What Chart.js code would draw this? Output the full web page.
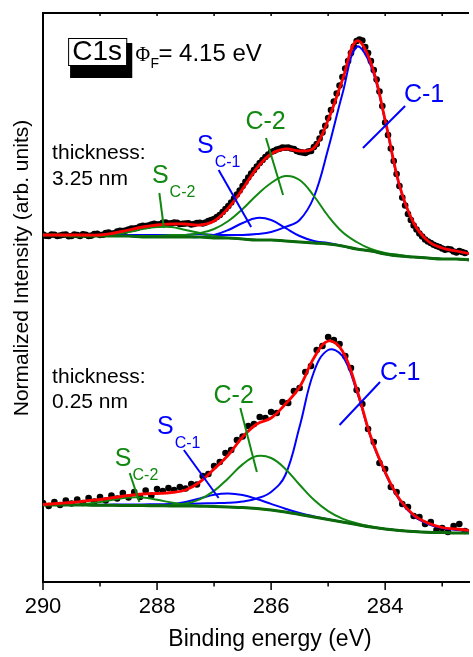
<!DOCTYPE html>
<html>
<head>
<meta charset="utf-8">
<script src="https://cdn.jsdelivr.net/npm/chart.js@4.4.1/dist/chart.umd.min.js"></script>
<style>
  html, body { margin: 0; padding: 0; background: #fff; }
  #wrap { width: 473px; height: 657px; position: relative; }
</style>
</head>
<body>
<div id="wrap"><canvas id="xps"></canvas></div>
<script>
// binding energy grid of the fitted curves (eV)
const fitEnergy = [290, 289.75, 289.5, 289.25, 289, 288.75, 288.5, 288.25, 288, 287.75,
  287.5, 287.25, 287, 286.75, 286.5, 286.25, 286, 285.75, 285.5, 285.25,
  285, 284.75, 284.5, 284.25, 284, 283.75, 283.5, 283.25, 283, 282.75, 282.5];

// binding energies of the measured points (eV)
const dotEnergy = [290.0, 289.9, 289.8, 289.7, 289.6, 289.5, 289.4, 289.3, 289.2, 289.1,
  289.0, 288.9, 288.8, 288.7, 288.6, 288.5, 288.4, 288.3, 288.2, 288.1,
  288.0, 287.9, 287.8, 287.7, 287.6, 287.5, 287.4, 287.3, 287.2, 287.1,
  287.0, 286.9, 286.8, 286.7, 286.6, 286.5, 286.4, 286.3, 286.2, 286.1,
  286.0, 285.9, 285.8, 285.7, 285.6, 285.5, 285.4, 285.3, 285.2, 285.1,
  285.0, 284.9, 284.8, 284.7, 284.6, 284.5, 284.4, 284.3, 284.2, 284.1,
  284.0, 283.9, 283.8, 283.7, 283.6, 283.5, 283.4, 283.3, 283.2, 283.1,
  283.0, 282.9, 282.8, 282.7, 282.6];
// the thick film was recorded with a finer step: points in between
const dotEnergyMid = [289.95, 289.85, 289.75, 289.65, 289.55, 289.45, 289.35, 289.25, 289.15, 289.05,
  288.95, 288.85, 288.75, 288.65, 288.55, 288.45, 288.35, 288.25, 288.15, 288.05,
  287.95, 287.85, 287.75, 287.65, 287.55, 287.45, 287.35, 287.25, 287.15, 287.05,
  286.95, 286.85, 286.75, 286.65, 286.55, 286.45, 286.35, 286.25, 286.15, 286.05,
  285.95, 285.85, 285.75, 285.65, 285.55, 285.45, 285.35, 285.25, 285.15, 285.05,
  284.95, 284.85, 284.75, 284.65, 284.55, 284.45, 284.35, 284.25, 284.15, 284.05,
  283.95, 283.85, 283.75, 283.65, 283.55, 283.45, 283.35, 283.25, 283.15, 283.05,
  282.95, 282.85, 282.75, 282.65];

// 3.25 nm film (offset upwards)
const thickData = [3.475, 3.46, 3.472, 3.465, 3.475, 3.46, 3.47, 3.478, 3.46, 3.48,
  3.47, 3.49, 3.482, 3.505, 3.51, 3.525, 3.535, 3.555, 3.56, 3.575,
  3.575, 3.592, 3.585, 3.595, 3.58, 3.585, 3.575, 3.59, 3.585, 3.61,
  3.63, 3.67, 3.73, 3.795, 3.875, 3.96, 4.045, 4.12, 4.19, 4.25,
  4.30, 4.325, 4.345, 4.345, 4.33, 4.30, 4.29, 4.31, 4.38, 4.495,
  4.64, 4.805, 4.965, 5.135, 5.29, 5.41, 5.415, 5.29, 5.12, 4.905,
  4.595, 4.335, 4.08, 3.845, 3.68, 3.565, 3.485, 3.425, 3.39, 3.36,
  3.335, 3.33, 3.305, 3.31, 3.29];
const thickDataMid = [3.462, 3.475, 3.46, 3.472, 3.458, 3.474, 3.46, 3.472, 3.464, 3.482,
  3.472, 3.494, 3.488, 3.512, 3.514, 3.534, 3.54, 3.562, 3.564, 3.582,
  3.578, 3.594, 3.586, 3.592, 3.582, 3.588, 3.58, 3.592, 3.594, 3.62,
  3.65, 3.70, 3.76, 3.835, 3.915, 4.002, 4.085, 4.155, 4.22, 4.275,
  4.31, 4.332, 4.342, 4.335, 4.31, 4.295, 4.304, 4.35, 4.435, 4.562,
  4.72, 4.885, 5.05, 5.21, 5.355, 5.425, 5.35, 5.21, 5.025, 4.76,
  4.47, 4.21, 3.96, 3.765, 3.62, 3.525, 3.455, 3.405, 3.372, 3.35,
  3.322, 3.324, 3.295, 3.30];
const thickFit = [3.47, 3.47, 3.47, 3.47, 3.47, 3.49, 3.52, 3.55, 3.57, 3.58,
  3.58, 3.57, 3.61, 3.74, 3.93, 4.14, 4.28, 4.33, 4.31, 4.34,
  4.62, 5.02, 5.41, 5.19, 4.62, 3.97, 3.59, 3.41, 3.34, 3.31, 3.28];
const thickC1 = [3.47, 3.47, 3.47, 3.47, 3.47, 3.47, 3.47, 3.47, 3.47, 3.47,
  3.47, 3.48, 3.47, 3.47, 3.47, 3.48, 3.50, 3.55, 3.62, 3.85,
  4.33, 4.88, 5.35, 5.16, 4.61, 3.96, 3.59, 3.41, 3.34, 3.31, 3.28];
const thickC2 = [3.47, 3.47, 3.46, 3.46, 3.46, 3.46, 3.46, 3.46, 3.46, 3.47,
  3.47, 3.49, 3.53, 3.61, 3.73, 3.87, 3.99, 4.06, 4.02, 3.86,
  3.66, 3.50, 3.40, 3.33, 3.29, 3.27, 3.25, 3.24, 3.23, 3.23, 3.22];
const thickSC1 = [3.47, 3.47, 3.46, 3.46, 3.46, 3.46, 3.46, 3.45, 3.45, 3.45,
  3.45, 3.45, 3.47, 3.52, 3.59, 3.64, 3.62, 3.54, 3.46, 3.41,
  3.39, 3.36, 3.33, 3.31, 3.28, 3.26, 3.25, 3.24, 3.23, 3.23, 3.22];
const thickSC2 = [3.47, 3.47, 3.46, 3.46, 3.47, 3.48, 3.50, 3.53, 3.55, 3.55,
  3.52, 3.49, 3.46, 3.44, 3.43, 3.42, 3.42, 3.41, 3.40, 3.39,
  3.38, 3.36, 3.33, 3.31, 3.28, 3.26, 3.25, 3.24, 3.23, 3.23, 3.22];
const thickBg = [3.47, 3.47, 3.46, 3.46, 3.46, 3.46, 3.46, 3.45, 3.45, 3.45,
  3.45, 3.45, 3.44, 3.44, 3.43, 3.42, 3.42, 3.41, 3.40, 3.39,
  3.38, 3.36, 3.33, 3.31, 3.28, 3.26, 3.25, 3.24, 3.23, 3.23, 3.22];

// 0.25 nm film
const thinData = [0.79, 0.76, 0.80, 0.77, 0.815, 0.785, 0.825, 0.79, 0.84, 0.805,
  0.85, 0.815, 0.865, 0.835, 0.89, 0.845, 0.90, 0.85, 0.915, 0.865,
  0.93, 0.91, 0.94, 0.92, 0.95, 0.935, 0.98, 0.975, 1.06, 1.08,
  1.16, 1.20, 1.29, 1.32, 1.42, 1.455, 1.56, 1.58, 1.65, 1.64,
  1.70, 1.69, 1.80, 1.79, 1.91, 1.94, 2.10, 2.16, 2.32, 2.36,
  2.45, 2.42, 2.38, 2.26, 2.14, 1.92, 1.78, 1.53, 1.40, 1.19,
  1.13, 0.95, 0.90, 0.78, 0.75, 0.66, 0.65, 0.58, 0.60, 0.52,
  0.54, 0.50, 0.56, 0.58, 0.51];
const thinFit = [0.775, 0.785, 0.795, 0.81, 0.825, 0.845, 0.865, 0.88, 0.885, 0.895,
  0.92, 1.00, 1.13, 1.27, 1.45, 1.58, 1.64, 1.78, 1.95, 2.24,
  2.41, 2.31, 1.93, 1.45, 1.10, 0.83, 0.67, 0.59, 0.545, 0.53, 0.515];
const thinC1 = [0.77, 0.772, 0.773, 0.773, 0.773, 0.774, 0.775, 0.776, 0.777, 0.779,
  0.782, 0.785, 0.788, 0.792, 0.805, 0.835, 0.90, 1.07, 1.555, 2.10,
  2.32, 2.26, 1.91, 1.44, 1.09, 0.82, 0.66, 0.58, 0.54, 0.52, 0.51];
const thinC2 = [0.77, 0.77, 0.77, 0.769, 0.768, 0.767, 0.765, 0.765, 0.764, 0.768,
  0.785, 0.827, 0.911, 1.038, 1.176, 1.259, 1.24, 1.131, 0.973, 0.822,
  0.709, 0.634, 0.587, 0.554, 0.531, 0.515, 0.505, 0.498, 0.494, 0.49, 0.49];
const thinSC1 = [0.77, 0.77, 0.77, 0.769, 0.768, 0.767, 0.765, 0.764, 0.766, 0.776,
  0.799, 0.836, 0.873, 0.886, 0.869, 0.83, 0.781, 0.733, 0.69, 0.656,
  0.627, 0.60, 0.575, 0.55, 0.53, 0.515, 0.505, 0.498, 0.494, 0.49, 0.49];
const thinSC2 = [0.77, 0.771, 0.773, 0.781, 0.799, 0.825, 0.846, 0.846, 0.823, 0.794,
  0.773, 0.762, 0.756, 0.75, 0.745, 0.735, 0.72, 0.70, 0.675, 0.65,
  0.625, 0.60, 0.575, 0.55, 0.53, 0.515, 0.505, 0.498, 0.494, 0.49, 0.49];
const thinBg = [0.77, 0.77, 0.77, 0.769, 0.768, 0.767, 0.765, 0.764, 0.762, 0.761,
  0.76, 0.758, 0.755, 0.75, 0.745, 0.735, 0.72, 0.70, 0.675, 0.65,
  0.625, 0.60, 0.575, 0.55, 0.53, 0.515, 0.505, 0.498, 0.494, 0.49, 0.49];

// x axis ticks, labelled every 2 eV
const tickValues = [290, 289, 288, 287, 286, 285, 284, 283];

const FONT = '"Liberation Sans", Arial, Helvetica, sans-serif';
const RED = '#ff0000', BLUE = '#0000ff', GREEN = '#118811', BASE = '#0c6a0c';

// peak labels and their pointer lines, in data coordinates
const notes = [
  { text: 'thickness:', x: 289.84, y: 4.29, color: '#000', size: 21 },
  { text: '3.25 nm', x: 289.84, y: 4.03, color: '#000', size: 21 },
  { text: 'thickness:', x: 289.84, y: 2.05, color: '#000', size: 21 },
  { text: '0.25 nm', x: 289.84, y: 1.80, color: '#000', size: 21 },
  { text: 'C-1', x: 283.67, y: 4.87, color: BLUE, size: 25 },
  { text: 'C-2', x: 286.45, y: 4.60, color: GREEN, size: 25 },
  { text: 'S', sub: 'C-1', x: 287.30, y: 4.36, color: BLUE, size: 25 },
  { text: 'S', sub: 'C-2', x: 288.09, y: 4.06, color: GREEN, size: 25 },
  { text: 'C-1', x: 284.09, y: 2.09, color: BLUE, size: 25 },
  { text: 'C-2', x: 287.01, y: 1.86, color: GREEN, size: 25 },
  { text: 'S', sub: 'C-1', x: 288.00, y: 1.55, color: BLUE, size: 25 },
  { text: 'S', sub: 'C-2', x: 288.74, y: 1.23, color: GREEN, size: 25 }
];
const pointers = [
  { from: [284.39, 4.34], to: [283.65, 4.76], color: BLUE },
  { from: [286.09, 4.44], to: [285.79, 3.87], color: GREEN },
  { from: [286.92, 4.12], to: [286.35, 3.55], color: BLUE },
  { from: [287.96, 3.89], to: [287.88, 3.54], color: GREEN },
  { from: [284.80, 1.57], to: [284.09, 2.00], color: BLUE },
  { from: [286.54, 1.74], to: [286.25, 1.10], color: GREEN },
  { from: [287.53, 1.32], to: [286.92, 0.84], color: BLUE },
  { from: [288.48, 1.09], to: [288.31, 0.80], color: GREEN }
];

const pts = (xs, ys) => xs.map((x, i) => ({ x: x, y: ys[i] }));

function curve(ys, color, width, order) {
  return {
    data: pts(fitEnergy, ys), showLine: true, borderColor: color, borderWidth: width,
    pointRadius: 0, tension: 0.4, fill: false, order: order
  };
}
function dots(xs, ys) {
  return {
    data: pts(xs, ys), showLine: false, pointRadius: 3.3,
    pointBackgroundColor: '#000', pointBorderWidth: 0, order: 6
  };
}

// frame, tick marks, labels and axis titles
const decorations = {
  id: 'decorations',
  afterDraw(chart) {
    const { ctx, chartArea: a, scales: { x, y } } = chart;
    ctx.save();
    ctx.strokeStyle = '#000';
    ctx.lineWidth = 2;
    ctx.beginPath();
    ctx.moveTo(a.left - 1, a.top);
    ctx.lineTo(a.right, a.top);
    ctx.stroke();

    ctx.lineWidth = 1.5;
    x.ticks.forEach(t => {
      const px = x.getPixelForValue(t.value);
      const len = t.value % 2 === 0 ? 8 : 4.5;
      ctx.beginPath();
      ctx.moveTo(px, a.bottom);
      ctx.lineTo(px, a.bottom + len);
      ctx.moveTo(px, a.top);
      ctx.lineTo(px, a.top + 3);
      ctx.stroke();
    });

    // pointer lines
    ctx.lineWidth = 2;
    pointers.forEach(p => {
      ctx.strokeStyle = p.color;
      ctx.beginPath();
      ctx.moveTo(x.getPixelForValue(p.from[0]), y.getPixelForValue(p.from[1]));
      ctx.lineTo(x.getPixelForValue(p.to[0]), y.getPixelForValue(p.to[1]));
      ctx.stroke();
    });

    // peak names
    ctx.textAlign = 'left';
    ctx.textBaseline = 'middle';
    notes.forEach(n => {
      const px = x.getPixelForValue(n.x), py = y.getPixelForValue(n.y);
      ctx.fillStyle = n.color;
      ctx.font = n.size + 'px ' + FONT;
      ctx.fillText(n.text, px, py);
      if (n.sub) {
        const w = ctx.measureText(n.text).width;
        ctx.font = '16px ' + FONT;
        ctx.fillText(n.sub, px + w + 1, py + 17);
      }
    });

    // core level box with shadow
    const bx0 = x.getPixelForValue(289.56), bx1 = x.getPixelForValue(288.54);
    const by0 = y.getPixelForValue(5.44), by1 = y.getPixelForValue(5.17);
    ctx.fillStyle = '#000';
    ctx.fillRect(bx0 + 2, by0 + 5, bx1 - bx0 + 4, by1 - by0 + 8);
    ctx.fillStyle = '#fff';
    ctx.fillRect(bx0, by0, bx1 - bx0, by1 - by0);
    ctx.lineWidth = 1;
    ctx.strokeStyle = '#000';
    ctx.strokeRect(bx0 + 0.5, by0 + 0.5, bx1 - bx0, by1 - by0);
    ctx.fillStyle = '#000';
    ctx.textAlign = 'center';
    ctx.font = '28px ' + FONT;
    ctx.fillText('C1s', (bx0 + bx1) / 2, (by0 + by1) / 2 + 1);

    // work function
    ctx.textAlign = 'left';
    ctx.textBaseline = 'alphabetic';
    const fx = x.getPixelForValue(288.38), fy = y.getPixelForValue(5.21);
    ctx.font = '20px "Liberation Serif", "DejaVu Serif", serif';
    ctx.fillText('\u03A6', fx, fy);
    ctx.font = '14px ' + FONT;
    ctx.fillText('F', fx + 15, fy + 7);
    ctx.font = '24px ' + FONT;
    ctx.fillText('= 4.15 eV', fx + 23, fy);

    // axis titles
    ctx.textAlign = 'center';
    ctx.textBaseline = 'middle';
    ctx.font = '23px ' + FONT;
    ctx.fillText('Binding energy (eV)', 270, 640);
    ctx.translate(22, 268);
    ctx.rotate(-Math.PI / 2);
    ctx.font = '21px ' + FONT;
    ctx.fillText('Normalized Intensity (arb. units)', 0, 0);
    ctx.restore();
  }
};

new Chart(document.getElementById('xps'), {
  type: 'scatter',
  data: {
    datasets: [
      curve(thickFit, RED, 2.8, 0),
      curve(thinFit, RED, 2.8, 0),
      curve(thickBg, BASE, 3, 1),
      curve(thinBg, BASE, 3, 1),
      curve(thickC2, GREEN, 2, 2),
      curve(thickSC2, GREEN, 2, 2),
      curve(thinC2, GREEN, 2, 2),
      curve(thinSC2, GREEN, 2, 2),
      curve(thickC1, BLUE, 2, 3),
      curve(thickSC1, BLUE, 2, 3),
      curve(thinC1, BLUE, 2, 3),
      curve(thinSC1, BLUE, 2, 3),
      dots(dotEnergy, thickData),
      dots(dotEnergyMid, thickDataMid),
      dots(dotEnergy, thinData)
    ]
  },
  options: {
    responsive: true,
    maintainAspectRatio: false,
    animation: false,
    events: [],
    layout: { padding: { top: 13, right: 0, bottom: 0, left: 0 } },
    plugins: { legend: { display: false }, tooltip: { enabled: false } },
    scales: {
      x: {
        type: 'linear',
        reverse: true,
        min: 282.53,
        max: 290,
        afterBuildTicks: s => { s.ticks = tickValues.map(v => ({ value: v })); },
        afterFit: s => { s.height = 75; },
        grid: { drawOnChartArea: false, drawTicks: false },
        border: { color: '#000', width: 2 },
        ticks: {
          padding: 12,
          color: '#000',
          font: { family: FONT, size: 22 },
          maxRotation: 0,
          autoSkip: false,
          callback: v => (v % 2 === 0 ? String(v) : '')
        }
      },
      y: {
        min: 0,
        max: 5.69,
        afterFit: s => { s.width = 43; },
        grid: { drawOnChartArea: false, drawTicks: false },
        border: { color: '#000', width: 2 },
        ticks: { display: false }
      }
    }
  },
  plugins: [decorations]
});
</script>
</body>
</html>
